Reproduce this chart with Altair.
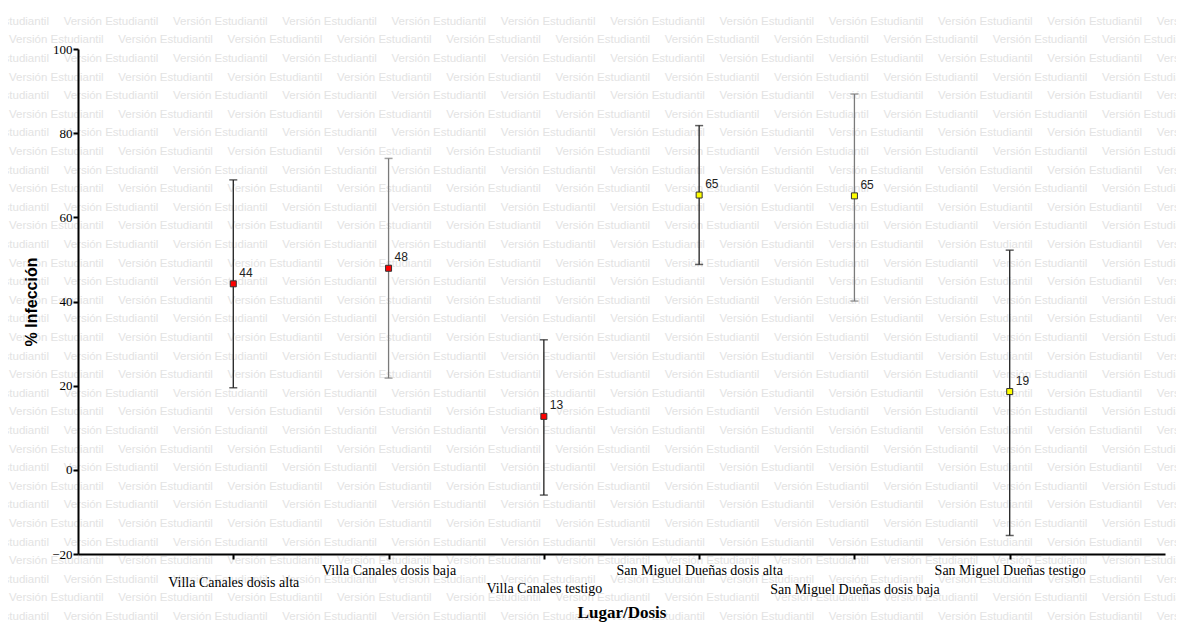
import altair as alt
import pandas as pd

# ---- data ----
categories = [
    "Villa Canales dosis alta",
    "Villa Canales dosis baja",
    "Villa Canales testigo",
    "San Miguel Dueñas dosis alta",
    "San Miguel Dueñas dosis baja",
    "San Miguel Dueñas testigo",
]
means = [44.2, 47.9, 12.7, 65.3, 65.1, 18.6]
lower = [19.5, 21.8, -6.0, 48.8, 40.1, -15.6]
upper = [68.9, 74.0, 30.9, 81.8, 89.3, 52.2]
y_ticks = [-20, 0, 20, 40, 60, 80, 100]

# ---- styles ----
marker_colors = ["#ff0000", "#ff0000", "#ff0000", "#ffff00", "#ffff00", "#ffff00"]
bar_colors = ["#1e1e1e", "#7a7a7a", "#1e1e1e", "#1e1e1e", "#7a7a7a", "#1e1e1e"]
label_pad = [23, 11, 29, 11, 30, 11]

df = pd.DataFrame({
    "cat": categories,
    "mean": means,
    "lower": lower,
    "upper": upper,
    "mcolor": marker_colors,
    "bcolor": bar_colors,
})

# watermark grid (decoration)
wm_rows = []
for r in range(34):
    for c in range(-1, 11):
        wm_rows.append({"row": r, "colpos": c + (0.5 if r % 2 == 0 else 0.0)})
wm_df = pd.DataFrame(wm_rows)

W, H = 1087, 505

pad_conditions = [
    {"test": f"datum.value == '{cat}'", "value": p}
    for cat, p in zip(categories, label_pad) if p != 11
]

x_axis = alt.Axis(
    title="Lugar/Dosis",
    titleFont="Liberation Serif", titleFontSize=17, titleFontWeight="bold", titleColor="black",
    titleY=58, titleBaseline="middle",
    labelAngle=0, labelFont="Liberation Serif", labelFontSize=14, labelColor="black",
    labelBaseline="middle", labelOverlap=False, labelLimit=400,
    labelPadding={"condition": pad_conditions, "value": 11},
    domainColor="black", domainWidth=2, tickColor="black", tickWidth=2, tickSize=5,
    grid=False, zindex=1,
)
y_axis = alt.Axis(
    title="% Infección", values=y_ticks,
    titleFont="Liberation Sans", titleFontSize=16, titleFontWeight="bold", titleColor="black",
    titleAngle=270, titleX=-47, titleY=H / 2, titleBaseline="middle", titleAlign="center",
    labelFont="Liberation Serif", labelFontSize=13, labelColor="black", labelPadding=1,
    domainColor="black", domainWidth=2, tickColor="black", tickWidth=2, tickSize=5,
    grid=False, zindex=1,
)

x_enc = alt.X("cat:N", sort=categories, scale=alt.Scale(type="point", padding=1), axis=x_axis)
y_scale = alt.Scale(domain=[-20, 100], nice=False, zero=False)

base = alt.Chart(df)

rules = base.mark_rule(strokeWidth=1.3).encode(
    x=x_enc,
    y=alt.Y("lower:Q", scale=y_scale, axis=y_axis),
    y2="upper:Q",
    color=alt.Color("bcolor:N", scale=None),
)

caps = base.transform_fold(["lower", "upper"], as_=["end", "yv"]).mark_tick(
    size=8, thickness=1.5, orient="horizontal"
).encode(
    x=x_enc,
    y=alt.Y("yv:Q", scale=y_scale, axis=y_axis),
    color=alt.Color("bcolor:N", scale=None),
)

points = base.mark_square(size=36, stroke="#333333", strokeWidth=1, opacity=1).encode(
    x=x_enc,
    y=alt.Y("mean:Q", scale=y_scale, axis=y_axis),
    fill=alt.Fill("mcolor:N", scale=None),
)

labels = base.mark_text(
    align="left", baseline="middle", dx=6, dy=-11,
    font="Liberation Sans", fontSize=12, color="#222222",
).encode(
    x=x_enc,
    y=alt.Y("mean:Q", scale=y_scale, axis=y_axis),
    text=alt.Text("mean:Q", format=".0f"),
)

data_layer = alt.layer(rules, caps, points, labels)

watermark = alt.Chart(wm_df).mark_text(
    align="left", baseline="middle", font="Liberation Sans", fontSize=11.5,
    color="#e3e3e3", text="Versión Estudiantil",
).encode(
    x=alt.X("colpos:Q", scale=alt.Scale(domain=[0, 1], range=[-69, 40.3], nice=False, zero=False), axis=None),
    y=alt.Y("row:Q", scale=alt.Scale(domain=[0, 1], range=[-27.3, -8.7], nice=False, zero=False), axis=None),
)

chart = alt.layer(watermark, data_layer).resolve_scale(
    x="independent", y="independent"
).properties(
    width=W, height=H,
    autosize=alt.AutoSizeParams(type="none"),
    padding={"left": 70, "top": 41, "right": 11, "bottom": 73},
    background="white",
).configure_view(stroke=None)

chart.save("out.html", embed_options={"renderer": "svg", "actions": False})
